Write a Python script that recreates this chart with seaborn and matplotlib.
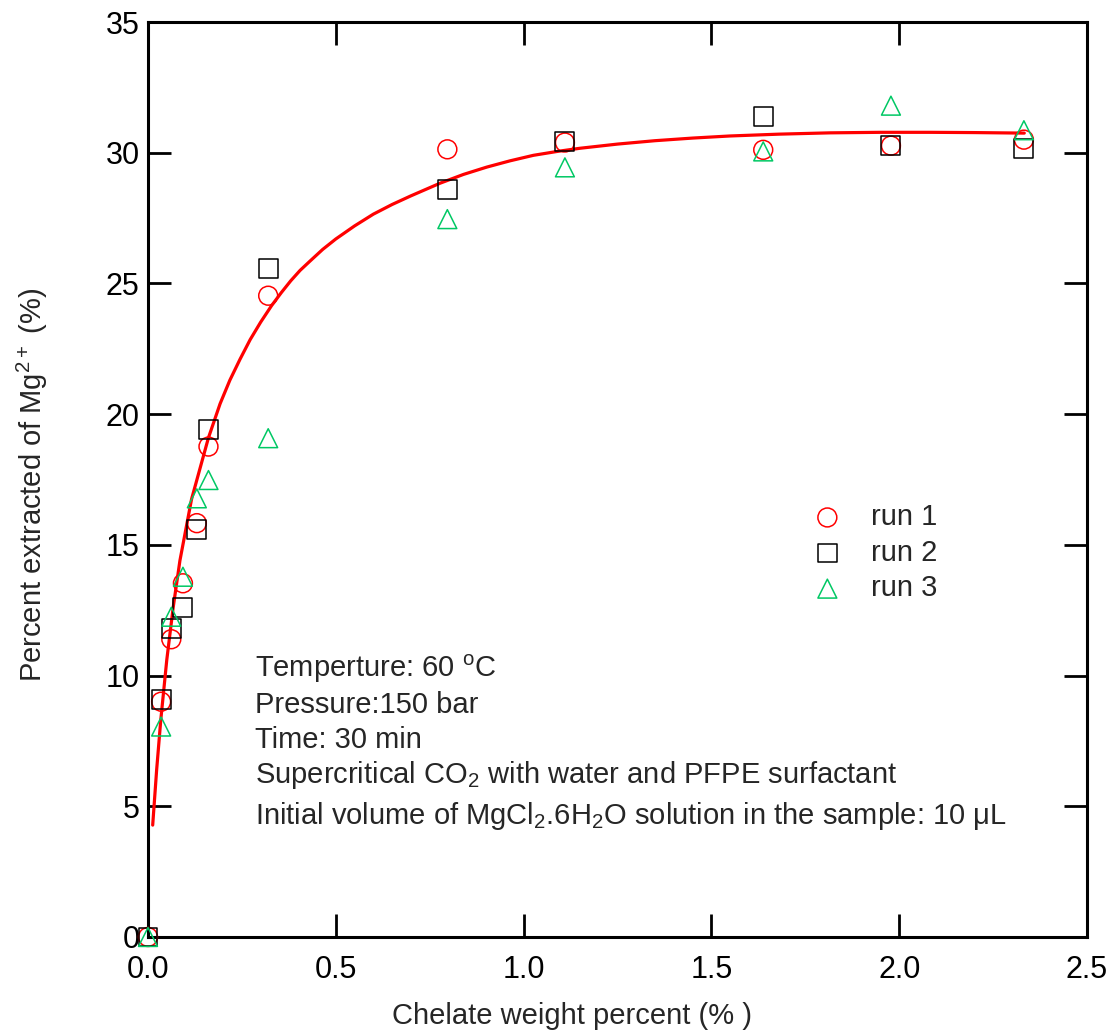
import matplotlib
matplotlib.use("Agg")
import matplotlib.pyplot as plt
import seaborn as sns
import numpy as np
import pandas as pd

# ---------------- data ----------------
conc = [0.0, 0.035, 0.062, 0.093, 0.130, 0.161, 0.320, 0.797, 1.110, 1.638, 1.978, 2.332]
run1 = [0.0, 9.00, 11.39, 13.53, 15.83, 18.76, 24.53, 30.13, 30.39, 30.11, 30.27, 30.50]
run2 = [0.0, 9.10, 11.81, 12.60, 15.60, 19.40, 25.58, 28.58, 30.43, 31.38, 30.27, 30.15]
run3 = [0.0, 8.05, 12.25, 13.78, 16.78, 17.48, 19.08, 27.46, 29.44, 30.05, 31.80, 30.86]

fit_x = [0.0125, 0.023, 0.034, 0.050, 0.067, 0.085, 0.116, 0.161, 0.192, 0.218, 0.245,
         0.272, 0.300, 0.329, 0.355, 0.380, 0.405, 0.431, 0.465, 0.500, 0.550, 0.600,
         0.650, 0.700, 0.777, 0.840, 0.902, 0.964, 1.026, 1.090, 1.150, 1.250, 1.350,
         1.450, 1.549, 1.680, 1.816, 1.950, 2.082, 2.200, 2.333]
fit_y = [4.28, 6.39, 8.30, 10.60, 12.60, 14.40, 16.75, 19.10, 20.40, 21.30, 22.10,
         22.85, 23.52, 24.15, 24.65, 25.10, 25.50, 25.85, 26.30, 26.70, 27.20, 27.65,
         28.02, 28.35, 28.83, 29.17, 29.45, 29.69, 29.90, 30.05, 30.17, 30.33, 30.46,
         30.56, 30.64, 30.71, 30.76, 30.78, 30.78, 30.77, 30.75]

x_ticks = [0.0, 0.5, 1.0, 1.5, 2.0, 2.5]
y_ticks = [0, 5, 10, 15, 20, 25, 30, 35]

# ---------------- style ----------------
sns.set_style("ticks")
plt.rcParams["font.family"] = ["Liberation Sans", "DejaVu Sans"]
plt.rcParams["mathtext.default"] = "regular"
plt.rcParams["mathtext.fontset"] = "custom"
plt.rcParams["mathtext.rm"] = "Liberation Sans"
plt.rcParams["mathtext.it"] = "Liberation Sans"

FS = 21
TFS = 22
fig = plt.figure(figsize=(11.13, 10.32), dpi=100)
ax = fig.add_axes([148 / 1113, 1 - 937 / 1032, 939 / 1113, 915 / 1032])

red = "#FF0000"
black = "#000000"
green = "#00C864"
ms = 185

sns.lineplot(x=fit_x, y=fit_y, color=red, lw=2.3, sort=False, estimator=None, ax=ax, zorder=2)

sns.scatterplot(x=conc, y=run1, marker="o", s=ms, color=red, facecolor="none",
                edgecolor=red, linewidth=1.1, ax=ax, label="run 1", clip_on=False, zorder=3)
sns.scatterplot(x=conc, y=run2, marker="s", s=ms, color=black, facecolor="none",
                edgecolor=black, linewidth=1.1, ax=ax, label="run 2", clip_on=False, zorder=3)
sns.scatterplot(x=conc, y=run3, marker="^", s=ms, color=green, facecolor="none",
                edgecolor=green, linewidth=1.1, ax=ax, label="run 3", clip_on=False, zorder=3)

ax.set_xlim(0, 2.5)
ax.set_ylim(0, 35)
ax.set_xticks(x_ticks)
ax.set_xticklabels([f"{v:.1f}" for v in x_ticks])
ax.set_yticks(y_ticks)
ax.set_yticklabels([str(v) for v in y_ticks])

for s in ax.spines.values():
    s.set_visible(True)
    s.set_linewidth(2.2)
    s.set_color("black")

ax.tick_params(axis="both", which="major", direction="in", length=16.5, width=2.0,
               labelsize=TFS, colors="black", top=True, right=True)
ax.tick_params(axis="x", pad=13)
ax.tick_params(axis="y", pad=6)

ax.set_xlabel("Chelate weight percent (% )", fontsize=FS)
ax.set_ylabel("Percent extracted of Mg$^{2+}$ (%)", fontsize=FS)
ax.xaxis.set_label_coords((572 - 148) / 939, -0.071)
ax.yaxis.set_label_coords(-0.104, 0.494)

lines = [
    ("Temperture: 60 $^{o}$C", 0.284),
    ("Pressure:150 bar", 0.245),
    ("Time: 30 min", 0.2066),
    ("Supercritical CO$_2$ with water and PFPE surfactant", 0.168),
    ("Initial volume of MgCl$_2$.6H$_2$O solution in the sample: 10 $\\mu$L", 0.1235),
]
for txt, yy in lines:
    ax.text((255 - 148) / 939, yy, txt, transform=ax.transAxes, fontsize=FS,
            ha="left", va="baseline")

leg = ax.legend(loc="center left", bbox_to_anchor=(0.680, 0.420), frameon=False,
                fontsize=FS, handlelength=1.0, handletextpad=1.0, labelspacing=0.26,
                borderpad=0.4)

fig.savefig("out.png", dpi=100)
